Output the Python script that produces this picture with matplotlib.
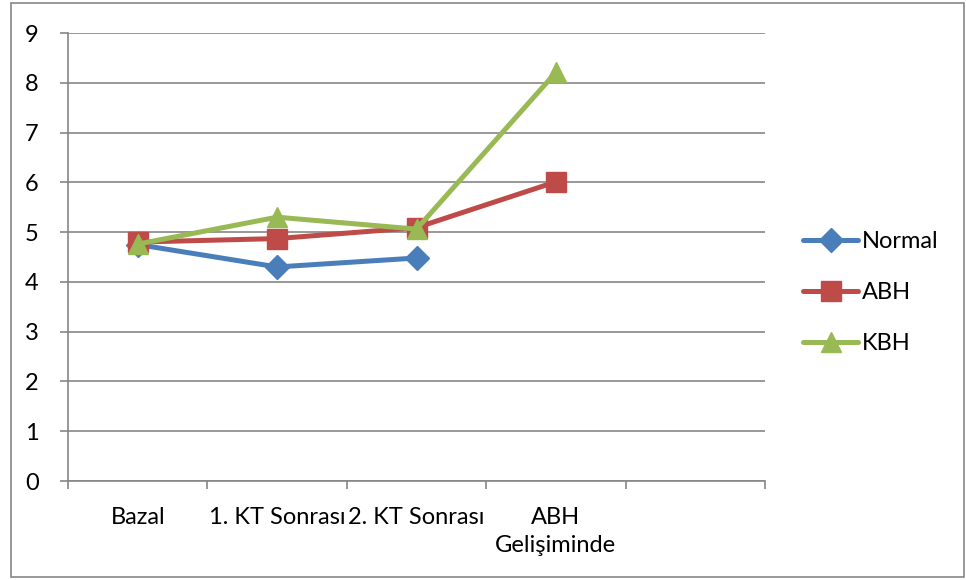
import matplotlib
matplotlib.use("Agg")
import matplotlib.pyplot as plt
from matplotlib.patches import Rectangle

categories = ["Bazal", "1. KT Sonrası", "2. KT Sonrası", "ABH\nGelişiminde", ""]
normal = [4.75, 4.30, 4.48]
abh = [4.80, 4.87, 5.09, 6.01]
kbh = [4.76, 5.30, 5.06, 8.21]
yticks = list(range(0, 10))

plt.rcParams['font.family'] = ['Lato', 'DejaVu Sans']

W, H = 966, 580
fig = plt.figure(figsize=(W / 100, H / 100), dpi=100)
ax = fig.add_axes([68 / W, 1 - 481 / H, (765 - 68) / W, (481 - 33) / H])

gray = "#868686"
series = [
    ("Normal", normal, "#4A7EBB", "D", 12),
    ("ABH", abh, "#BE4B48", "s", 14),
    ("KBH", kbh, "#98B954", "^", 14),
]
for i, (name, vals, col, mk, ms) in enumerate(series):
    x = [j + 0.5 for j in range(len(vals))]
    ax.plot(x, vals, color=col, lw=3.6, marker=mk, markersize=ms,
            markerfacecolor=col, markeredgecolor=col, label=name,
            zorder=3 + i, solid_capstyle="round")

fs = 17
ax.set_xlim(0, len(categories))
ax.set_ylim(0, 9)
ax.set_yticks(yticks)
ax.set_yticklabels([str(t) for t in yticks], fontsize=fs)
ax.set_xticks([j + 0.5 for j in range(len(categories))])
ax.set_xticklabels(categories, fontsize=fs, linespacing=1.38)
ax.set_xticks(range(len(categories) + 1), minor=True)
ax.tick_params(axis="x", which="major", length=0, pad=19)
ax.tick_params(axis="x", which="minor", length=6, color=gray, width=1.2, direction="out")
ax.tick_params(axis="y", length=6, color=gray, width=1.2, pad=15)
ax.yaxis.grid(True, color=gray, lw=1.2)
ax.set_axisbelow(True)
for s in ["top", "right"]:
    ax.spines[s].set_visible(False)
for s in ["left", "bottom"]:
    ax.spines[s].set_color(gray)
    ax.spines[s].set_linewidth(1.2)

leg = ax.legend(loc="upper left", bbox_to_anchor=(803 / W, 1 - 231 / H),
                bbox_transform=fig.transFigure, frameon=False, fontsize=fs,
                handlelength=2.35, handletextpad=0.15, labelspacing=1.28,
                borderpad=0, borderaxespad=0)

fig.patches.append(Rectangle((11 / W, 1 - 577 / H), (964 - 11) / W, (577 - 3) / H,
                             transform=fig.transFigure, fill=False,
                             edgecolor=gray, lw=1.2))

fig.savefig("out.png", dpi=100)
